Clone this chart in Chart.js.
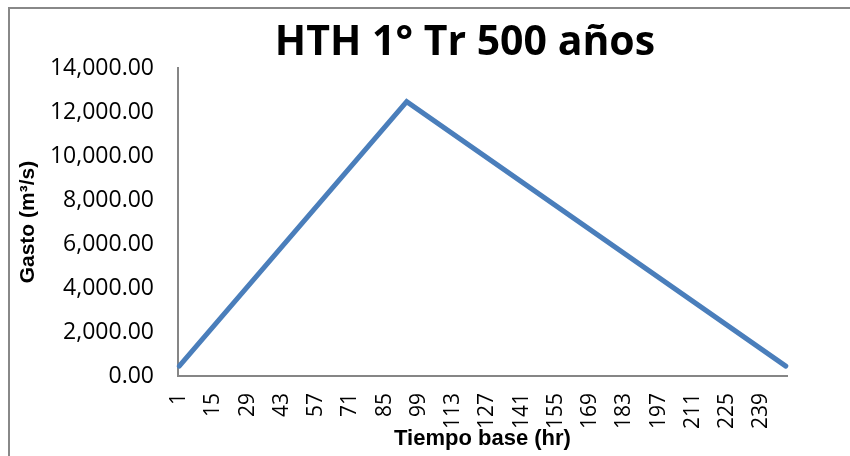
<!DOCTYPE html>
<html>
<head>
<meta charset="utf-8">
<script src="https://cdn.jsdelivr.net/npm/chart.js@4.4.1/dist/chart.umd.min.js"></script>
<style>
  html, body { margin: 0; padding: 0; background: #fff; overflow: hidden; width: 850px; height: 456px; }
  #frame { position: absolute; left: 8px; top: 7px; width: 960px; height: 470px;
           border-left: 2px solid #888; border-top: 2px solid #888; }
  #wrap { position: absolute; left: 0; top: 0; width: 910px; height: 447px; }
</style>
</head>
<body>
<div id="frame">
  <div id="wrap"><canvas id="hidroChart"></canvas></div>
</div>
<script>
// valores (vertices del hidrograma triangular)
const tiempo = [1, 94, 249];
const gasto = [450, 12480, 450];
const xTicks = [1, 15, 29, 43, 57, 71, 85, 99, 113, 127, 141, 155, 169, 183, 197, 211, 225, 239];
const yTicks = [0, 2000, 4000, 6000, 8000, 10000, 12000, 14000];

const ctx = document.getElementById('hidroChart').getContext('2d');

const chart = new Chart(ctx, {
    type: 'line',
    data: {
        datasets: [{
            data: tiempo.map((t, i) => ({ x: t, y: gasto[i] })),
            borderColor: '#4A7EBB',
            borderWidth: 5,
            pointRadius: 0,
            tension: 0,
            borderCapStyle: 'round',
            borderJoinStyle: 'miter',
            clip: false
        }]
    },
    options: {
        responsive: true,
        maintainAspectRatio: false,
        animation: false,
        layout: { padding: { left: 0, right: 0, top: 0, bottom: 4 } },
        plugins: {
            legend: { display: false },
            tooltip: { enabled: false },
            title: {
                display: true,
                text: 'HTH 1° Tr 500 años',
                color: '#000',
                font: { family: '"Open Sans"', size: 41, weight: 'bold', lineHeight: 1.2 },
                padding: { top: 10, bottom: 0 }
            }
        },
        scales: {
            x: {
                type: 'linear',
                min: 0.5,
                max: 249.5,
                grid: { display: false, drawTicks: false },
                border: { display: true, color: '#868686', width: 2 },
                afterBuildTicks: s => { s.ticks = xTicks.map(v => ({ value: v })); },
                afterFit: s => { s.height = 76; },
                ticks: {
                    autoSkip: false,
                    minRotation: 90,
                    maxRotation: 90,
                    padding: 17,
                    color: '#000',
                    font: { family: '"Open Sans"', size: 21 },
                    callback: v => String(v)
                },
                title: {
                    display: true,
                    text: 'Tiempo base (hr)',
                    color: '#000',
                    font: { family: '"Liberation Sans"', size: 22, weight: 'bold', lineHeight: 1.2 },
                    padding: 0
                }
            },
            y: {
                min: 0,
                max: 14000,
                grid: { display: false, drawTicks: false },
                border: { display: true, color: '#868686', width: 2 },
                afterBuildTicks: s => { s.ticks = yTicks.map(v => ({ value: v })); },
                afterFit: s => { s.width = 168; },
                ticks: {
                    padding: 24,
                    color: '#000',
                    font: { family: '"Open Sans"', size: 23 },
                    callback: v => v.toLocaleString('en-US', { minimumFractionDigits: 2, maximumFractionDigits: 2 })
                },
                title: {
                    display: true,
                    text: 'Gasto (m³/s)',
                    color: '#000',
                    font: { family: '"Liberation Sans"', size: 21, weight: 'bold', lineHeight: 1.2 },
                    padding: { top: 6, bottom: 0 }
                }
            },
            // eje derecho vacio, solo reserva el margen derecho del area de trazado
            yRight: {
                position: 'right',
                display: true,
                grid: { display: false, drawTicks: false },
                border: { display: false },
                ticks: { display: false },
                afterFit: s => { s.width = 133; }
            }
        }
    }
});
</script>
</body>
</html>
